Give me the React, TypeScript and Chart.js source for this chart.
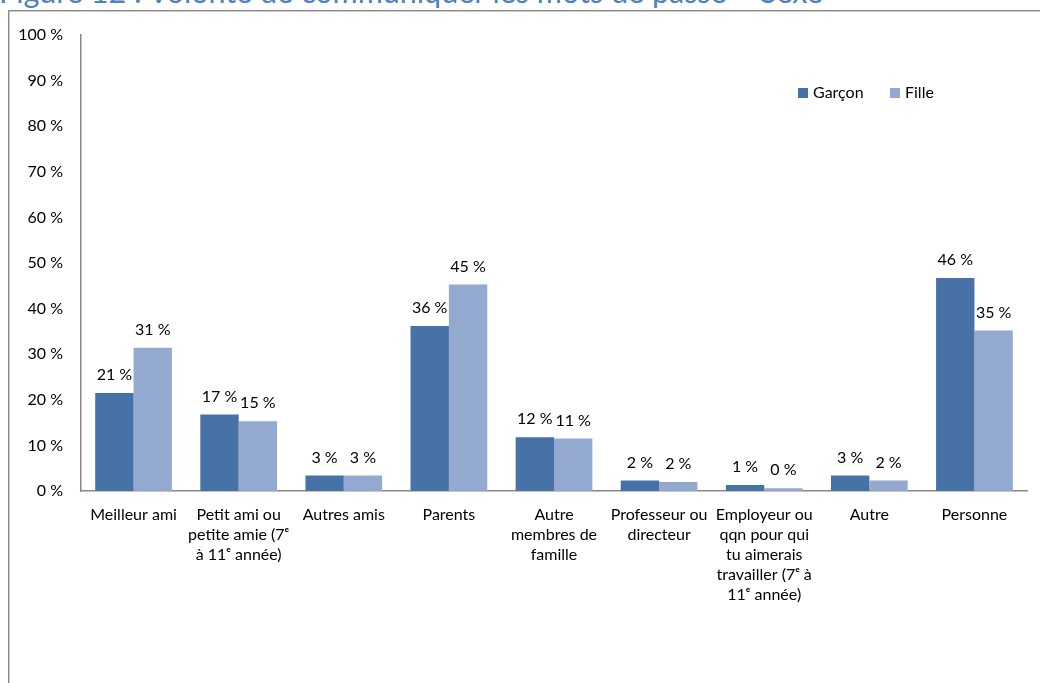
import React, { useEffect, useRef } from "react";
import { Chart, registerables } from "chart.js";

Chart.register(...registerables);

const categories: (string | string[])[] = [
  "Meilleur ami",
  ["Petit ami ou", "petite amie (7ᵉ", "à 11ᵉ année)"],
  "Autres amis",
  "Parents",
  ["Autre", "membres de", "famille"],
  ["Professeur ou", "directeur"],
  ["Employeur ou", "qqn pour qui", "tu aimerais", "travailler (7ᵉ à", "11ᵉ année)"],
  "Autre",
  "Personne",
];

const garconValues = [21.5, 16.8, 3.4, 36.2, 11.8, 2.3, 1.3, 3.4, 46.7];
const filleValues = [31.4, 15.3, 3.4, 45.3, 11.5, 2.0, 0.6, 2.3, 35.2];
const garconLabels = ["21 %", "17 %", "3 %", "36 %", "12 %", "2 %", "1 %", "3 %", "46 %"];
const filleLabels = ["31 %", "15 %", "3 %", "45 %", "11 %", "2 %", "0 %", "2 %", "35 %"];
const seriesNames = ["Garçon", "Fille"];
const seriesColors = ["#4672A8", "#94A9D0"];

const FONT = "Lato, 'Open Sans', sans-serif";
const TEXT = "#000000";

const valueLabelPlugin = {
  id: "valueLabels",
  afterDatasetsDraw(chart: any) {
    const ctx = chart.ctx;
    const labelSets = [garconLabels, filleLabels];
    ctx.save();
    ctx.font = `16px ${FONT}`;
    ctx.fillStyle = TEXT;
    ctx.textAlign = "center";
    ctx.textBaseline = "middle";
    chart.data.datasets.forEach((_ds: any, di: number) => {
      const meta = chart.getDatasetMeta(di);
      meta.data.forEach((el: any, i: number) => {
        ctx.fillText(labelSets[di][i], el.x, el.y - 18);
      });
    });
    ctx.restore();
  },
};

const legendPlugin = {
  id: "customLegend",
  afterDraw(chart: any) {
    const ctx = chart.ctx;
    const area = chart.chartArea;
    let x = area.right - 229;
    const y = area.top + 58;
    ctx.save();
    ctx.font = `16px ${FONT}`;
    ctx.textBaseline = "middle";
    ctx.textAlign = "left";
    seriesNames.forEach((name, i) => {
      ctx.fillStyle = seriesColors[i];
      ctx.fillRect(x, y - 5, 10, 10);
      ctx.fillStyle = TEXT;
      ctx.fillText(name, x + 15, y);
      x += 92;
    });
    ctx.restore();
  },
};

export default function App() {
  const ref = useRef<HTMLCanvasElement | null>(null);
  useEffect(() => {
    if (!ref.current) return;
    const chart = new Chart(ref.current, {
      type: "bar",
      data: {
        labels: categories,
        datasets: [
          {
            label: seriesNames[0],
            data: garconValues,
            backgroundColor: seriesColors[0],
            categoryPercentage: 0.73,
            barPercentage: 1,
          },
          {
            label: seriesNames[1],
            data: filleValues,
            backgroundColor: seriesColors[1],
            categoryPercentage: 0.73,
            barPercentage: 1,
          },
        ],
      },
      options: {
        animation: false,
        responsive: false,
        maintainAspectRatio: false,
        layout: { padding: { top: 35, right: 13, left: 0, bottom: 0 } },
        plugins: { legend: { display: false }, tooltip: { enabled: false } },
        scales: {
          x: {
            grid: { display: false, drawTicks: false },
            border: { display: true, color: "#888888", width: 1.5 },
            ticks: {
              color: TEXT,
              font: { family: FONT, size: 16, lineHeight: 1.25 },
              padding: 14,
              maxRotation: 0,
              autoSkip: false,
            },
            afterFit(scale: any) {
              scale.height = 192;
            },
          },
          y: {
            min: 0,
            max: 100,
            grid: { display: false, drawTicks: false },
            border: { display: true, color: "#888888", width: 1.5 },
            ticks: {
              stepSize: 10,
              color: TEXT,
              font: { family: FONT, size: 16 },
              padding: 18,
              callback: (v: any) => `${v} %`,
            },
            afterFit(scale: any) {
              scale.width = 81;
            },
          },
        },
      },
      plugins: [valueLabelPlugin, legendPlugin],
    });
    return () => chart.destroy();
  }, []);

  return (
    <div style={{ position: "fixed", left: 0, top: 0, width: 1040, height: 683, background: "#fff", overflow: "hidden" }}>
      <div
        style={{
          position: "absolute",
          left: -1,
          top: -24,
          whiteSpace: "nowrap",
          fontFamily: FONT,
          fontSize: 30.5,
          lineHeight: "30px",
          color: "#4F81BD",
        }}
      >
        Figure 12 : Volonté de communiquer les mots de passe – Sexe
      </div>
      <div style={{ position: "absolute", left: 8, top: 10, width: 1040, height: 1, background: "#8a8a8a" }} />
      <div style={{ position: "absolute", left: 8, top: 11, width: 1040, height: 1, background: "#c8c8c8" }} />
      <div style={{ position: "absolute", left: 8, top: 10, width: 1, height: 700, background: "#8a8a8a" }} />
      <div style={{ position: "absolute", left: 9, top: 11, width: 1, height: 700, background: "#c8c8c8" }} />
      <canvas ref={ref} width={1040} height={683} style={{ position: "absolute", left: 0, top: 0 }} />
    </div>
  );
}
